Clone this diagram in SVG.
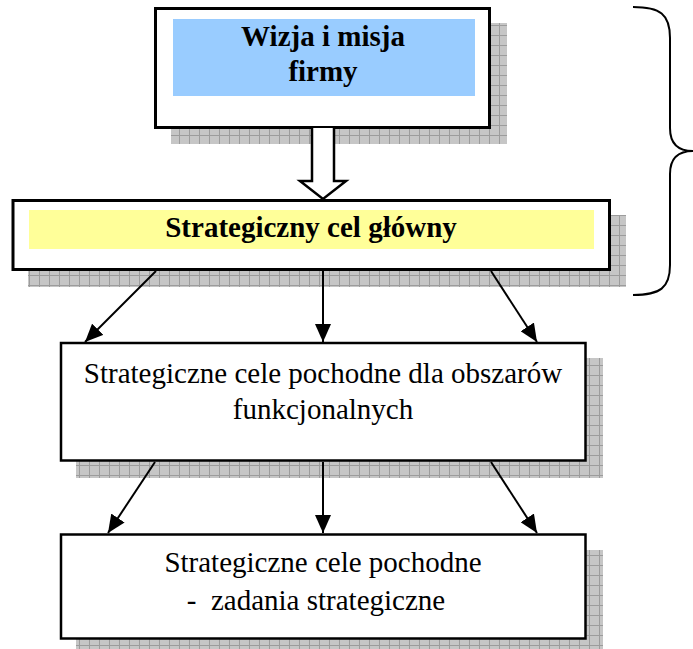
<svg xmlns="http://www.w3.org/2000/svg" width="693" height="649" viewBox="0 0 693 649">
  <defs>
    <!-- grey grid texture used for the drop shadows -->
    <pattern id="grid" x="9" y="5" width="10" height="10" patternUnits="userSpaceOnUse">
      <rect width="10" height="10" fill="#c6c6c6"/>
      <path d="M0.5 0 V10 M0 0.5 H10" stroke="#9c9c9c" stroke-width="1" fill="none"/>
    </pattern>
    <marker id="head" viewBox="0 0 18 16" refX="18" refY="8" markerWidth="18" markerHeight="16" markerUnits="userSpaceOnUse" orient="auto">
      <path d="M0 0 L18 8 L0 16 Z" fill="#000"/>
    </marker>
  </defs>
  <style>
    .shadow { fill: url(#grid); }
    .box { fill: #fff; stroke: #000; }
    text { font-size: 29px; fill: #000; text-anchor: middle; }
    .bold { font-weight: bold; }
    .link { stroke: #000; stroke-width: 2; fill: none; marker-end: url(#head); }
  </style>

  <!-- shadows -->
  <rect class="shadow" x="171" y="23" width="336" height="121"/>
  <rect class="shadow" x="28" y="215" width="598" height="72"/>
  <rect class="shadow" x="76" y="358" width="527" height="120"/>
  <rect class="shadow" x="76" y="550" width="527" height="105"/>

  <g id="vision">
    <rect class="box" x="155.5" y="8.5" width="334" height="119" stroke-width="3"/>
    <rect x="173" y="19" width="302" height="77" fill="#99ccff"/>
    <text class="bold" x="323" y="46" font-family="Liberation Serif, serif">Wizja i misja</text>
    <text class="bold" x="323" y="81" font-family="Liberation Serif, serif">firmy</text>
  </g>

  <g id="main-goal">
    <rect class="box" x="13" y="200.5" width="596.5" height="69" stroke-width="3"/>
    <rect x="29" y="210" width="565" height="39" fill="#ffff99"/>
    <text class="bold" x="311" y="237" font-family="Liberation Serif, serif">Strategiczny cel główny</text>
  </g>

  <g id="functional-goals">
    <rect class="box" x="61" y="343" width="524.5" height="117.5" stroke-width="2.5"/>
    <text x="323" y="383" font-family="Liberation Serif, serif">Strategiczne cele pochodne dla obszarów</text>
    <text x="323" y="419" font-family="Liberation Serif, serif">funkcjonalnych</text>
  </g>

  <g id="tasks">
    <rect class="box" x="61" y="534.5" width="524.5" height="104" stroke-width="2.5"/>
    <text x="323" y="572" font-family="Liberation Serif, serif">Strategiczne cele pochodne</text>
    <text x="316" y="610" font-family="Liberation Serif, serif" xml:space="preserve">-  zadania strategiczne</text>
  </g>

  <g id="connectors">
    <!-- hollow block arrow from vision to main goal -->
    <path d="M312 128 V181 H300 L323 199 L346 181 H334 V128" fill="#fff" stroke="#000" stroke-width="2.5" stroke-linejoin="miter"/>
    <line class="link" x1="156" y1="271" x2="85" y2="342"/>
    <line class="link" x1="323" y1="271" x2="323" y2="342"/>
    <line class="link" x1="491" y1="271" x2="537" y2="342"/>
    <line class="link" x1="155" y1="462" x2="108" y2="533"/>
    <line class="link" x1="323" y1="462" x2="323" y2="533"/>
    <line class="link" x1="491" y1="462" x2="537" y2="533"/>
    <!-- curly brace grouping the top two levels -->
    <path d="M633 7 C660 7 670 14 670 38 L670 128 C670 143 678 151 693 151 C678 151 670 159 670 174 L670 265 C670 288 660 295 633 295" fill="none" stroke="#000" stroke-width="2"/>
  </g>
</svg>
